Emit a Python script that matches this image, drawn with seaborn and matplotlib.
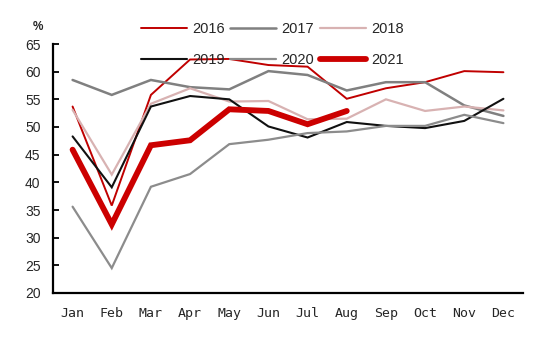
import numpy as np
import pandas as pd
import matplotlib
matplotlib.use("Agg")
import matplotlib.pyplot as plt
import seaborn as sns

months = ["Jan", "Feb", "Mar", "Apr", "May", "Jun",
          "Jul", "Aug", "Sep", "Oct", "Nov", "Dec"]

v2016 = [53.7, 35.8, 55.8, 62.2, 62.3, 61.2, 60.9, 55.1, 57.0, 58.1, 60.1, 59.9]
v2017 = [58.5, 55.8, 58.5, 57.2, 56.8, 60.1, 59.4, 56.6, 58.1, 58.1, 53.9, 52.0]
v2018 = [53.1, 41.4, 54.2, 57.0, 54.6, 54.7, 51.4, 51.5, 55.0, 52.9, 53.7, 53.0]
v2019 = [48.3, 39.1, 53.7, 55.6, 55.0, 50.1, 48.1, 50.9, 50.2, 49.8, 51.1, 55.1]
v2020 = [35.6, 24.5, 39.2, 41.5, 46.9, 47.7, 48.9, 49.2, 50.2, 50.2, 52.2, 50.7]
v2021 = [45.9, 32.4, 46.7, 47.6, 53.2, 52.9, 50.5, 52.9]

series = [
    ("2016", v2016, "#c00000", 1.4),
    ("2017", v2017, "#808080", 1.8),
    ("2018", v2018, "#d8b2b2", 1.6),
    ("2019", v2019, "#111111", 1.5),
    ("2020", v2020, "#8c8c8c", 1.6),
    ("2021", v2021, "#cc0000", 4.2),
]

sns.set_style("white")
plt.rcParams["font.family"] = ["Liberation Sans", "DejaVu Sans"]

fig = plt.figure(figsize=(5.5, 3.39), dpi=100)
ax = fig.add_axes([53 / 550, 1 - 293 / 339, 470 / 550, 249 / 339])

for name, vals, color, lw in series:
    df = pd.DataFrame({"x": np.arange(len(vals)), "y": vals})
    sns.lineplot(data=df, x="x", y="y", ax=ax, color=color, linewidth=lw,
                 label=name, solid_joinstyle="miter")

ax.set_xlim(-0.5, 11.5)
ax.set_ylim(20, 65)
ax.set_yticks(np.arange(20, 66, 5))
ax.set_xticks(np.arange(-0.5, 12, 1))
ax.set_xticklabels([])
ax.set_xticks(np.arange(12), minor=True)
ax.set_xticklabels(months, minor=True, fontfamily="DejaVu Sans Mono", fontsize=9.5)
ax.tick_params(axis="x", which="major", direction="in", length=4, width=1.3, color="black")
ax.tick_params(axis="x", which="minor", length=0, pad=10)
ax.tick_params(axis="y", direction="in", length=4, width=1.3, color="black",
               labelsize=10, pad=9, left=True)
ax.set_xlabel("")
ax.set_ylabel("")

for side in ["top", "right"]:
    ax.spines[side].set_visible(False)
for side in ["left", "bottom"]:
    ax.spines[side].set_color("black")
    ax.spines[side].set_linewidth(1.6)

# legend fills column-wise, so reorder to read row-wise: 2016 2017 2018 / 2019 2020 2021
handles, labels = ax.get_legend_handles_labels()
order = [0, 3, 1, 4, 2, 5]
ax.legend([handles[i] for i in order], [labels[i] for i in order],
          loc="upper left", bbox_to_anchor=(141 / 550, 1 - 22 / 339),
          bbox_transform=fig.transFigure, ncol=3, frameon=False,
          fontsize=10.5, handlelength=3.15, handletextpad=0.35,
          columnspacing=0.4, labelspacing=1.2, borderpad=0, borderaxespad=0)

fig.text(38 / 550, 1 - 27 / 339, "%", fontsize=8.5, fontweight="bold",
         ha="center", va="center")

fig.savefig("out.png", dpi=100)
